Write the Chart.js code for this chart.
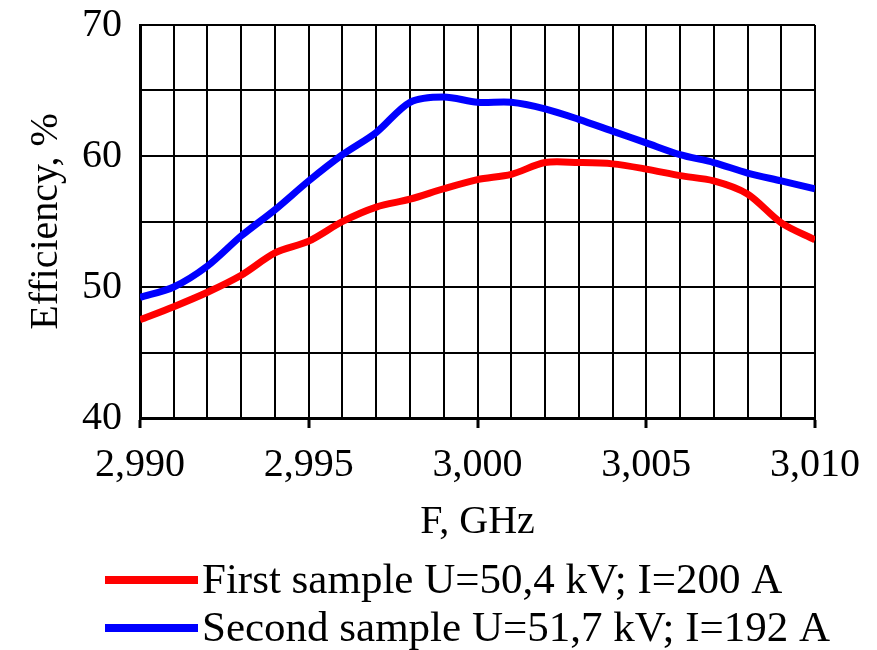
<!DOCTYPE html>
<html>
<head>
<meta charset="utf-8">
<script src="https://cdn.jsdelivr.net/npm/chart.js@4"></script>
<style>
  html, body { margin: 0; padding: 0; background: #fff; }
  #wrap { width: 877px; height: 650px; }
</style>
</head>
<body>
<div id="wrap"><canvas id="effChart" width="877" height="650"></canvas></div>
<script>
// Frequency points, GHz
const freqs = [2.990, 2.991, 2.992, 2.993, 2.994, 2.995, 2.996, 2.997, 2.998, 2.999, 3.000,
               3.001, 3.002, 3.003, 3.004, 3.005, 3.006, 3.007, 3.008, 3.009, 3.010];

// Efficiency, %
const firstSample = [47.5, 48.5, 49.6, 50.9, 52.6, 53.5, 55.0, 56.1, 56.7, 57.5, 58.2,
                     58.6, 59.5, 59.5, 59.4, 59.0, 58.5, 58.1, 57.1, 54.9, 53.6];
const secondSample = [49.2, 50.0, 51.6, 53.9, 55.9, 58.1, 60.1, 61.8, 64.1, 64.5, 64.1,
                      64.1, 63.6, 62.8, 61.9, 61.0, 60.1, 59.5, 58.7, 58.1, 57.5];

const seriesLabels = ['First sample U=50,4 kV; I=200 A', 'Second sample U=51,7 kV; I=192 A'];
const yLabels = [40, 50, 60, 70];
const xLabelStep = 5; // label every 5 MHz

const FONT = "'Liberation Serif', 'Times New Roman', serif";

function toPoints(values) {
    return freqs.map((f, i) => ({ x: f, y: values[i] }));
}

function isMajorX(v) {
    return Math.round(v * 1000) % xLabelStep === 0;
}

// Simple legend drawn below the axis title, left aligned
const bottomLegend = {
    id: 'bottomLegend',
    afterDraw(chart) {
        const { ctx } = chart;
        const rows = [chart.height - 70, chart.height - 22];
        ctx.save();
        chart.data.datasets.forEach((ds, i) => {
            const y = rows[i];
            ctx.beginPath();
            ctx.moveTo(105, y);
            ctx.lineTo(198, y);
            ctx.lineWidth = 8;
            ctx.strokeStyle = ds.borderColor;
            ctx.stroke();
            ctx.fillStyle = '#000';
            ctx.font = '43px ' + FONT;
            ctx.textBaseline = 'middle';
            ctx.fillText(ds.label, 202, y + 2);
        });
        ctx.restore();
    }
};

const chart = new Chart(document.getElementById('effChart'), {
    type: 'line',
    data: {
        datasets: [{
            label: seriesLabels[0],
            data: toPoints(firstSample),
            borderColor: '#ff0000',
            borderWidth: 7,
            pointRadius: 0,
            tension: 0.3,
            fill: false
        }, {
            label: seriesLabels[1],
            data: toPoints(secondSample),
            borderColor: '#0000ff',
            borderWidth: 7,
            pointRadius: 0,
            tension: 0.3,
            fill: false
        }]
    },
    options: {
        responsive: false,
        animation: false,
        layout: {
            padding: { top: 0, right: 0, bottom: 104, left: 22 }
        },
        plugins: {
            legend: { display: false },
            tooltip: { enabled: false }
        },
        scales: {
            x: {
                type: 'linear',
                min: 2.990,
                max: 3.010,
                afterFit: (s) => { s.paddingRight = 62; },
                border: { color: '#000', width: 3 },
                grid: {
                    color: '#000',
                    lineWidth: 2,
                    tickLength: 10,
                    tickWidth: 3,
                    tickColor: (c) => (c.tick && isMajorX(c.tick.value) ? '#000' : 'rgba(0,0,0,0)')
                },
                ticks: {
                    stepSize: 0.001,
                    autoSkip: false,
                    maxRotation: 0,
                    padding: 13,
                    color: '#000',
                    font: { family: FONT, size: 40 },
                    callback: (v) => (isMajorX(v) ? v.toFixed(3).replace('.', ',') : '')
                },
                title: {
                    display: true,
                    text: 'F, GHz',
                    color: '#000',
                    font: { family: FONT, size: 40 },
                    padding: { top: -4, bottom: 0 }
                }
            },
            y: {
                min: 40,
                max: 70,
                afterFit: (s) => { s.paddingTop = 25; },
                border: { color: '#000', width: 3 },
                grid: {
                    color: '#000',
                    lineWidth: 2,
                    drawTicks: false
                },
                ticks: {
                    stepSize: 5,
                    padding: 18,
                    color: '#000',
                    font: { family: FONT, size: 40 },
                    callback: (v) => (yLabels.includes(v) ? String(v) : '')
                },
                title: {
                    display: true,
                    text: 'Efficiency, %',
                    color: '#000',
                    font: { family: FONT, size: 40 },
                    padding: { top: 0, bottom: -6 }
                }
            }
        }
    },
    plugins: [bottomLegend]
});
</script>
</body>
</html>
